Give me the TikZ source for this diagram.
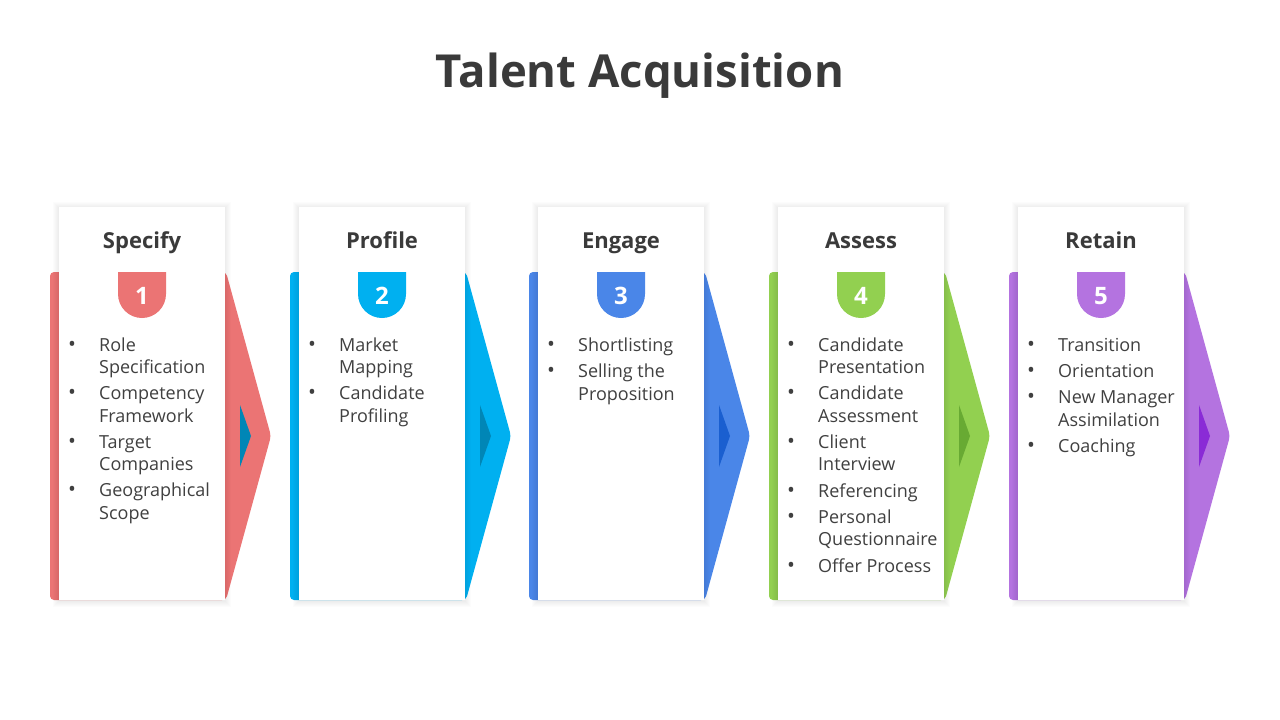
\documentclass[tikz,border=0pt]{standalone}
\usepackage{fontspec}
\setmainfont{Open Sans}
\usepackage{array}
\definecolor{cRed}{HTML}{EB7474}
\definecolor{cRedD}{HTML}{0086B6}
\definecolor{cCyan}{HTML}{00B0F0}
\definecolor{cCyanD}{HTML}{0086B6}
\definecolor{cBlue}{HTML}{4A86E8}
\definecolor{cBlueD}{HTML}{1A5FD0}
\definecolor{cGreen}{HTML}{92D050}
\definecolor{cGreenD}{HTML}{68AA33}
\definecolor{cPurple}{HTML}{B473E0}
\definecolor{cPurpleD}{HTML}{8A2BD6}
\definecolor{txt}{HTML}{404040}
\definecolor{head}{HTML}{3A3A3A}
\newcommand{\bul}{{\fontsize{21}{22.5}\selectfont •}}
\tikzset{
  titletext/.style={font=\fontsize{45.5}{50}\selectfont\bfseries, text=head, inner sep=0pt, anchor=base},
  headtext/.style={font=\fontsize{22}{26}\selectfont\bfseries, text=head, inner sep=0pt, anchor=base},
  numtext/.style={font=\fontsize{24}{28}\selectfont\bfseries, text=white, inner sep=0pt, anchor=base},
  listtext/.style={font=\fontsize{18}{22.5}\selectfont, text=txt, inner sep=0pt, anchor=base west},
  cardbox/.style={fill=white},
}
\newcommand{\stage}[5]{% #1 x0, #2 main colour, #3 dark colour, #4 name suffix, #5 number
  \fill[#2, rounded corners=4pt] (#1,272) -- (#1+176,272) -- (#1+221,436) -- (#1+176,600) -- (#1,600) -- cycle;
  \fill[#3] (#1+190,405) -- (#1+201,436) -- (#1+190,467) -- cycle;
  \foreach \k in {1,...,6} {
    \fill[black, opacity=0.011] (#1+9-\k,207-\k+1) rectangle (#1+175+\k,600+\k+1);
  }
  \fill[cardbox] (#1+9,207) rectangle (#1+175,600);
  \fill[#2] (#1+68,272) -- (#1+116,272) -- (#1+116,294) arc[start angle=0, end angle=-180, radius=24pt] -- cycle;
  \node[numtext] (num#4) at (#1+92,304) {#5};
}
\begin{document}
\begin{tikzpicture}[x=1pt,y=-1pt]
\useasboundingbox (0,0) rectangle (1280,720);
\fill[white] (0,0) rectangle (1280,720);
\node[titletext] (title) at (640,87) {Talent Acquisition};

\stage{50}{cRed}{cRedD}{a}{1}
\stage{290}{cCyan}{cCyanD}{b}{2}
\stage{529}{cBlue}{cBlueD}{c}{3}
\stage{769}{cGreen}{cGreenD}{d}{4}
\stage{1009}{cPurple}{cPurpleD}{e}{5}

\node[headtext] (ha) at (142,248) {Specify};
\node[headtext] (hb) at (382,248) {Profile};
\node[headtext] (hc) at (621,248) {Engage};
\node[headtext] (hd) at (861,248) {Assess};
\node[headtext] (he) at (1101,248) {Retain};

\node[listtext] (la) at (68,351) {\begin{tabular}[t]{@{}p{31pt}@{}l@{}}
\bul & Role\\ & Specification\\[3.5pt]
\bul & Competency\\ & Framework\\[3.5pt]
\bul & Target\\ & Companies\\[3.5pt]
\bul & Geographical\\ & Scope
\end{tabular}};

\node[listtext] (lb) at (308,351) {\begin{tabular}[t]{@{}p{31pt}@{}l@{}}
\bul & Market\\ & Mapping\\[3.5pt]
\bul & Candidate\\ & Profiling
\end{tabular}};

\node[listtext] (lc) at (547,351) {\begin{tabular}[t]{@{}p{31pt}@{}l@{}}
\bul & Shortlisting\\[4pt]
\bul & Selling the\\ & Proposition
\end{tabular}};

\node[listtext] (ld) at (787,351) {\begin{tabular}[t]{@{}p{31pt}@{}l@{}}
\bul & Candidate\\ & Presentation\\[3.5pt]
\bul & Candidate\\ & Assessment\\[3.5pt]
\bul & Client\\ & Interview\\[4pt]
\bul & Referencing\\[3.5pt]
\bul & Personal\\ & Questionnaire\\[4pt]
\bul & Offer Process
\end{tabular}};

\node[listtext] (le) at (1027,351) {\begin{tabular}[t]{@{}p{31pt}@{}l@{}}
\bul & Transition\\[4pt]
\bul & Orientation\\[3.5pt]
\bul & New Manager\\ & Assimilation\\[3.5pt]
\bul & Coaching
\end{tabular}};
\end{tikzpicture}
\end{document}
